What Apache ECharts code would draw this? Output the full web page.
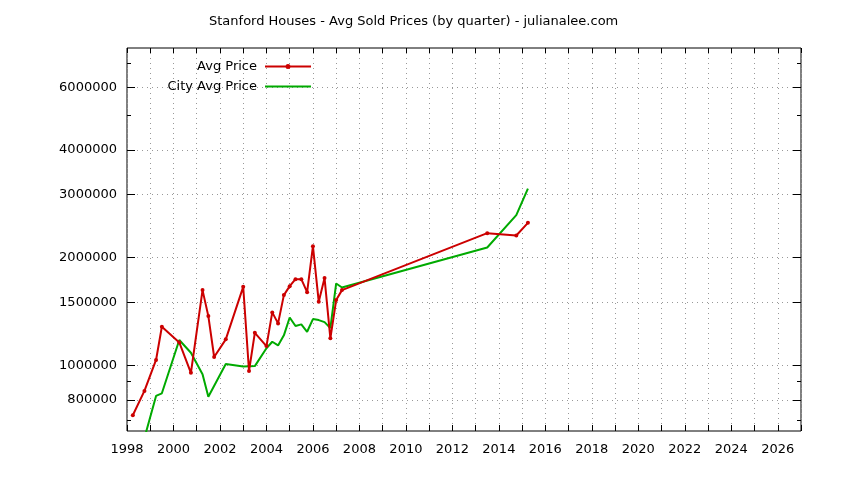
<!DOCTYPE html>
<html>
<head>
<meta charset="utf-8">
<script src="https://cdn.jsdelivr.net/npm/echarts@6/dist/echarts.min.js"></script>
<style>
html, body { margin: 0; padding: 0; background: #fff; }
#main { width: 844px; height: 480px; }
</style>
</head>
<body>
<div id="main"></div>
<script>
// quarterly averages
var avgDates = [1998.25, 1998.75, 1999.25, 1999.5, 2000.25, 2000.75, 2001.25, 2001.5, 2001.75, 2002.25,
    2003.0, 2003.25, 2003.5, 2004.0, 2004.25, 2004.5, 2004.75, 2005.0, 2005.25, 2005.5,
    2005.75, 2006.0, 2006.25, 2006.5, 2006.75, 2007.0, 2007.25, 2013.5, 2014.75, 2015.25];
var avgPrice = [725000, 848000, 1035000, 1282000, 1159000, 953000, 1623000, 1373000, 1055000, 1182000,
    1658000, 964000, 1233000, 1132000, 1406000, 1310000, 1572000, 1665000, 1742000, 1742000,
    1602000, 2154000, 1505000, 1754000, 1190000, 1522000, 1623000, 2342000, 2307000, 2503000];

var cityDates = [1998.75, 1999.25, 1999.5, 2000.25, 2000.75, 2001.25, 2001.5, 2002.25, 2003.0, 2003.5,
    2004.0, 2004.25, 2004.5, 2004.75, 2005.0, 2005.25, 2005.5, 2005.75, 2006.0, 2006.25,
    2006.5, 2006.75, 2007.0, 2007.25, 2013.5, 2014.75, 2015.25];
var cityPrice = [626000, 821000, 835000, 1177000, 1084000, 944000, 817000, 1008000, 992000, 995000,
    1116000, 1164000, 1137000, 1213000, 1361000, 1288000, 1302000, 1241000, 1347000, 1338000,
    1321000, 1271000, 1694000, 1651000, 2136000, 2630000, 3122000];

var yTicks = [800000, 1000000, 1500000, 2000000, 3000000, 4000000, 6000000];
var yMinorTicks = [700000, 900000, 5000000, 7000000];
var yMin = 655000, yMax = 7720000;
var xMin = 1998, xMax = 2027;

var FONT = 'DejaVu Sans';
var myChart = echarts.init(document.getElementById('main'));

function pairs(xs, ys) {
    return xs.map(function (x, i) { return [x, ys[i]]; });
}

function yAxisDef(pos, ticks, len, withLabel, withGrid) {
    return {
        type: 'log', logBase: 10, min: yMin, max: yMax, position: pos,
        axisLine: { show: false },
        axisTick: { show: true, inside: true, length: len, customValues: ticks, lineStyle: { color: '#000', width: 1 } },
        axisLabel: {
            show: withLabel, customValues: ticks, margin: 10,
            color: '#000', fontFamily: FONT, fontSize: 13,
            formatter: function (v) { return String(Math.round(v)); }
        },
        splitLine: { show: withGrid, lineStyle: { color: '#999', type: [1, 4], width: 1 } },
        minorTick: { show: false }
    };
}

// legend samples: line with a dot, plain line
var iconDotLine = 'path://M0,1 L46,1 L46,3 L0,3 Z M20.5,2 a2.5,2.5 0 1,1 5,0 a2.5,2.5 0 1,1 -5,0 Z';
var iconLine = 'path://M0,0 L46,0 L46,2 L0,2 Z';

var option = {
    animation: false,
    title: {
        text: 'Stanford Houses - Avg Sold Prices (by quarter) - julianalee.com',
        left: 204, top: 10,
        textStyle: { fontFamily: FONT, fontSize: 13, fontWeight: 'normal', color: '#000' }
    },
    grid: { left: 127, right: 43, top: 48, bottom: 49, show: true, borderColor: '#000', borderWidth: 1, backgroundColor: 'transparent' },
    legend: [
        {
            data: [{ name: 'Avg Price', icon: iconDotLine }], right: 528, top: 55, orient: 'vertical', align: 'right',
            itemWidth: 46, itemHeight: 10, selectedMode: false, itemStyle: { color: '#cc0000' },
            textStyle: { fontFamily: FONT, fontSize: 13, color: '#000', padding: [0, 3, 0, 0] }
        },
        {
            data: [{ name: 'City Avg Price', icon: iconLine }], right: 528, top: 75, orient: 'vertical', align: 'right',
            itemWidth: 46, itemHeight: 10, selectedMode: false, itemStyle: { color: '#00aa00' },
            textStyle: { fontFamily: FONT, fontSize: 13, color: '#000', padding: [0, 3, 0, 0] }
        }
    ],
    xAxis: [
        {
            type: 'value', min: xMin, max: xMax, interval: 1, position: 'bottom',
            axisLine: { show: false },
            axisTick: { inside: true, length: 6, lineStyle: { color: '#000' } },
            axisLabel: {
                margin: 12, color: '#000', fontFamily: FONT, fontSize: 13,
                formatter: function (v) { return v % 2 === 0 ? String(v) : ''; }
            },
            splitLine: { show: true, lineStyle: { color: '#999', type: [1, 4], width: 1 } }
        },
        {
            type: 'value', min: xMin, max: xMax, interval: 1, position: 'top',
            axisLine: { show: false },
            axisTick: { inside: true, length: 5, lineStyle: { color: '#000' } },
            axisLabel: { show: false },
            splitLine: { show: false }
        }
    ],
    yAxis: [
        yAxisDef('left', yTicks, 8, true, true),
        yAxisDef('left', yMinorTicks, 4, false, false),
        yAxisDef('right', yTicks, 8, false, false),
        yAxisDef('right', yMinorTicks, 4, false, false)
    ],
    series: [
        {
            name: 'Avg Price', type: 'line', xAxisIndex: 0, yAxisIndex: 0,
            data: pairs(avgDates, avgPrice),
            symbol: 'circle', symbolSize: 4, showSymbol: true,
            itemStyle: { color: '#cc0000' },
            lineStyle: { color: '#cc0000', width: 2 },
            clip: true, z: 3
        },
        {
            name: 'City Avg Price', type: 'line', xAxisIndex: 0, yAxisIndex: 0,
            data: pairs(cityDates, cityPrice),
            symbol: 'none', showSymbol: false,
            itemStyle: { color: '#00aa00' },
            lineStyle: { color: '#00aa00', width: 2 },
            clip: true, z: 2
        }
    ]
};

myChart.setOption(option);
</script>
</body>
</html>
